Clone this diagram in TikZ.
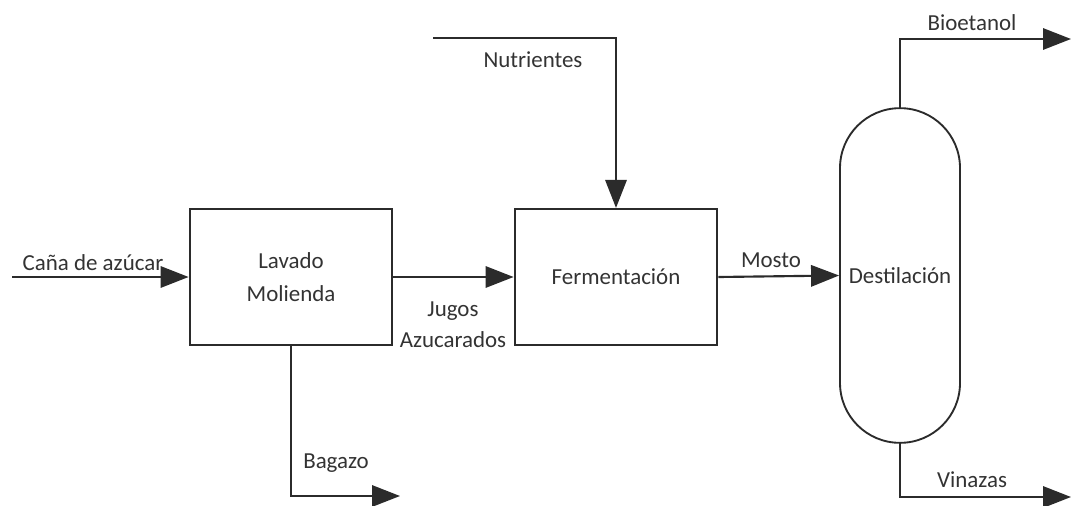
\documentclass[tikz,border=0pt]{standalone}
\usepackage{fontspec}
\setmainfont{Carlito}
\usetikzlibrary{positioning, arrows.meta}
\definecolor{linecol}{HTML}{2B2B2B}
\definecolor{textcol}{HTML}{333333}

\begin{document}
\begin{tikzpicture}[
        x=0.75pt, y=-0.75pt,
        unit/.style={rectangle, draw=linecol, line width=1.6pt, text=textcol,
                  minimum width=152pt, minimum height=102pt, align=center,
                  font=\fontsize{17.2}{25}\selectfont},
        column/.style={rectangle, draw=linecol, line width=1.4pt, text=textcol,
                  minimum width=90pt, minimum height=251pt, rounded corners=44.9pt,
                  font=\fontsize{17.2}{25}\selectfont},
        flow/.style={draw=linecol, line width=1.6pt, -{Triangle[length=21pt, width=16pt]}},
        lbl/.style={text=textcol, inner sep=1pt, align=center,
                  font=\fontsize{17.2}{23}\selectfont}
      ]
        \useasboundingbox (0,0) rectangle (1073,506);
        \node[unit] (lav) at (291,277) {Lavado\\Molienda};
        \node[unit] (fer) at (616,277) {Fermentación};
        \node[column] (des) at (900,275.5) {Destilación};
        \coordinate (cin) at (12,277);
        \coordinate (nin) at (433,38);
        \coordinate (bag) at (400,496);
        \coordinate (bio) at (1071,39);
        \coordinate (vin) at (1071,497);
        \draw[flow] (cin) -- (lav.west);
        \draw[flow] (lav.east) -- (fer.west);
        \draw[flow] (nin) -| (fer.north);
        \draw[flow] (fer.east) -- (des.west);
        \draw[flow] (lav.south) |- (bag);
        \draw[flow] (des.north) |- (bio);
        \draw[flow] (des.south) |- (vin);
        % etiquetas de corrientes
        \node[lbl] (lcana) at (93,263) {Caña de azúcar};
        \node[lbl] (ljugo) at (453,325) {Jugos\\Azucarados};
        \node[lbl] (lnutr) at (533,60) {Nutrientes};
        \node[lbl] (lmost) at (771,260) {Mosto};
        \node[lbl] (lbag) at (336,463) {Bagazo};
        \node[lbl] (lbio) at (972,23) {Bioetanol};
        \node[lbl] (lvin) at (972,480) {Vinazas};
      \end{tikzpicture}
\end{document}
